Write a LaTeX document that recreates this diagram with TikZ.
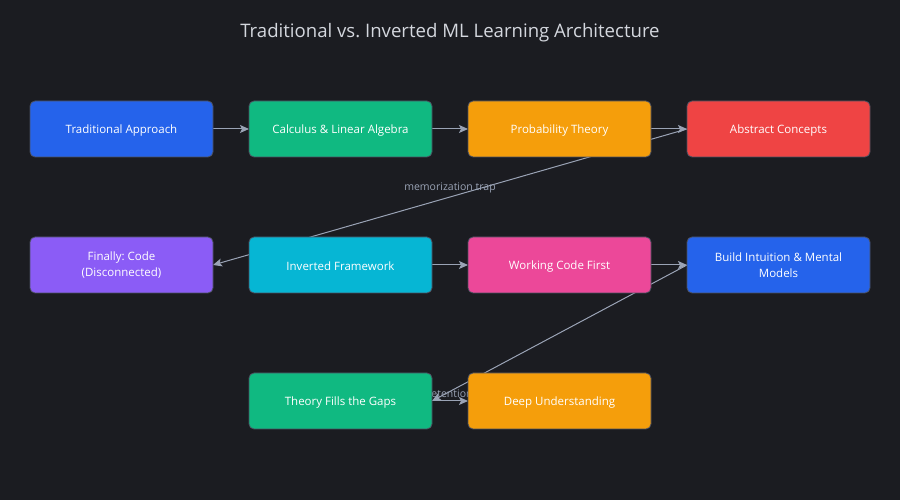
\documentclass[tikz,border=0pt]{standalone}
\usepackage{fontspec}
\setmainfont{Open Sans}
\usetikzlibrary{arrows.meta,positioning}
\frenchspacing

\definecolor{bgdark}{HTML}{1B1C21}
\definecolor{boxline}{HTML}{4B5060}
\definecolor{edgegray}{HTML}{9AA3B5}
\definecolor{titlegray}{HTML}{D4D7DE}
\definecolor{blueA}{HTML}{2563EB}
\definecolor{greenA}{HTML}{10B981}
\definecolor{orangeA}{HTML}{F59E0B}
\definecolor{redA}{HTML}{EF4444}
\definecolor{purpleA}{HTML}{8B5CF6}
\definecolor{cyanA}{HTML}{06B6D4}
\definecolor{pinkA}{HTML}{EC4899}

\pgfdeclarelayer{back}
\pgfsetlayers{back,main}

\begin{document}
\begin{tikzpicture}[x=1pt,y=1pt,node distance=80pt and 36pt,>={Stealth[length=9pt,width=8pt,inset=2pt]},
  box/.style={draw=boxline,line width=0.8pt,rounded corners=5pt,minimum width=183pt,minimum height=56pt,
    inner sep=3pt,align=center,outer sep=0pt,text=white,font=\fontsize{11.5}{16}\selectfont,
    execute at begin node={\rule{0pt}{12pt}}},
  flow/.style={->,draw=edgegray,line width=1pt},
  tag/.style={text=edgegray,inner sep=3pt,font=\fontsize{10.5}{12}\selectfont}]

\node (title) [text=titlegray,font=\fontsize{18.6}{22}\selectfont] at (450,467) {Traditional vs. Inverted ML Learning Architecture};

% traditional path
\node (trad) [box,fill=blueA] at (121.5,371) {Traditional Approach};
\node (calc) [box,fill=greenA,right=of trad] {Calculus \& Linear Algebra};
\node (prob) [box,fill=orangeA,right=of calc] {Probability Theory};
\node (abstr) [box,fill=redA,right=of prob] {Abstract Concepts};
\node (final) [box,fill=purpleA,below=of trad] {Finally: Code\\(Disconnected)};

% inverted path
\node (inv) [box,fill=cyanA,below=of calc] {Inverted Framework};
\node (work) [box,fill=pinkA,below=of prob] {Working Code First};
\node (intu) [box,fill=blueA,below=of abstr] {Build Intuition \& Mental\\Models};
\node (gaps) [box,fill=greenA,below=of inv] {Theory Fills the Gaps};
\node (deep) [box,fill=orangeA,below=of work] {Deep Understanding};

\begin{pgfonlayer}{back}
\fill[bgdark] (0,0) rectangle (900,500);
\draw[flow] (trad) -- (calc);
\draw[flow] (calc) -- (prob);
\draw[flow] (prob) -- (abstr);
\draw[flow] (abstr.west) -- node[tag,above] {memorization trap} (final.east);
\draw[flow] (inv) -- (work);
\draw[flow] (work) -- (intu);
\draw[flow] (intu.west) -- (gaps.east);
\draw[flow] (gaps) -- node[tag,above] {retention} (deep);
\end{pgfonlayer}
\end{tikzpicture}
\end{document}
